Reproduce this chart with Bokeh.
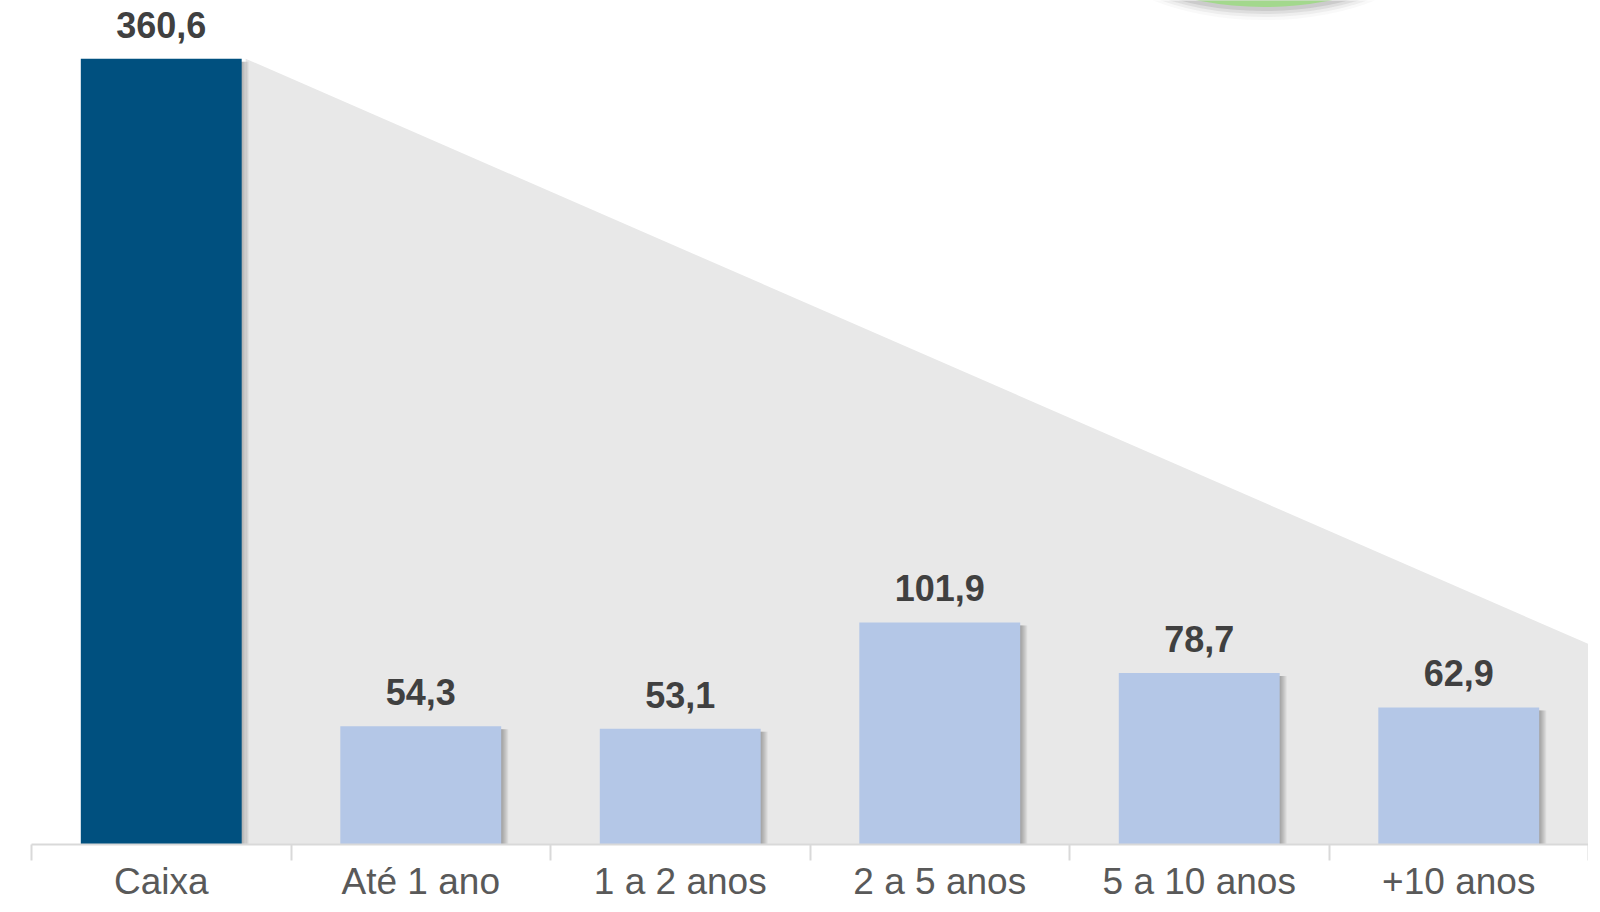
from bokeh.plotting import figure
from bokeh.models import Range1d, FixedTicker, ColumnDataSource
from bokeh.core.properties import value
from bokeh.embed import file_html
from bokeh.resources import INLINE

# ---- data ----
categories = ["Caixa", "Até 1 ano", "1 a 2 anos", "2 a 5 anos", "5 a 10 anos", "+10 anos"]
values = [360.6, 54.3, 53.1, 101.9, 78.7, 62.9]
bar_colors = ["#00507F", "#B4C7E7", "#B4C7E7", "#B4C7E7", "#B4C7E7", "#B4C7E7"]
value_labels = [f"{v:.1f}".replace(".", ",") for v in values]

# ---- layout constants ----
W, H = 1588, 904
FRAME_H = 838
Y_END = 387.3
BAR_W = 0.62
WEDGE_END = 92.0          # height of the grey wedge at the right edge
n = len(categories)
xs = [i + 0.5 for i in range(n)]
PX_X = n / 1557.0          # data units per screen pixel (x)
PX_Y = Y_END / FRAME_H     # data units per screen pixel (y)

p = figure(width=W, height=H, x_range=Range1d(0, n), y_range=Range1d(0, Y_END),
           output_backend="svg", toolbar_location=None,
           min_border_left=31, min_border_right=0, min_border_top=0, min_border_bottom=0)
p.outline_line_color = None
p.grid.visible = False
p.yaxis.visible = False
p.background_fill_color = "white"
p.border_fill_color = "white"

# grey wedge behind the bars
wx0 = xs[0] + BAR_W / 2 + 4 * PX_X
p.patch([wx0, wx0, n, n], [0, values[0], WEDGE_END, 0],
        fill_color="#E8E8E8", line_color=None)

# green circle at top (mostly outside) with shadow
cx = 4.75
cy = Y_END + 68 * PX_Y
for k, a in [(12, 0.04), (9, 0.07), (6, 0.11), (3, 0.15)]:
    p.ellipse(x=[cx], y=[cy - k * PX_Y], width=330, height=152,
              width_units="screen", height_units="screen",
              fill_color="#606060", fill_alpha=a, line_color=None)
p.ellipse(x=[cx], y=[cy], width=324, height=150,
          width_units="screen", height_units="screen",
          fill_color="#A3D88D", line_color=None)

# bar shadows
src = ColumnDataSource(dict(x=xs, top=values, color=bar_colors, label=value_labels))
for k in range(1, 8):
    p.vbar(x=[x + k * PX_X for x in xs], top=[v - 3 * PX_Y for v in values],
           bottom=[-2 * PX_Y] * n, width=BAR_W,
           fill_color="#404040", fill_alpha=0.07, line_color=None)

p.vbar(x="x", top="top", width=BAR_W, fill_color="color", line_color=None, source=src)

p.text(x="x", y="top", text="label", source=src,
       text_align="center", text_baseline="alphabetic", y_offset=-34,
       text_font=value("Liberation Sans"), text_font_style="bold",
       text_font_size="36px", text_color="#404040")

ax = p.xaxis[0]
ax.ticker = FixedTicker(ticks=xs, minor_ticks=list(range(n + 1)))
ax.major_label_overrides = {x: c for x, c in zip(xs, categories)}
ax.major_tick_line_color = None
ax.major_tick_out = 0
ax.major_tick_in = 0
ax.minor_tick_line_color = "#D9D9D9"
ax.minor_tick_line_width = 2
ax.minor_tick_out = 16
ax.minor_tick_in = 0
ax.axis_line_color = "#D9D9D9"
ax.axis_line_width = 2
ax.major_label_text_font = "Liberation Sans"
ax.major_label_text_font_size = "37px"
ax.major_label_text_color = "#595959"
ax.major_label_standoff = 0

open("out.html", "w").write(file_html(p, INLINE))
